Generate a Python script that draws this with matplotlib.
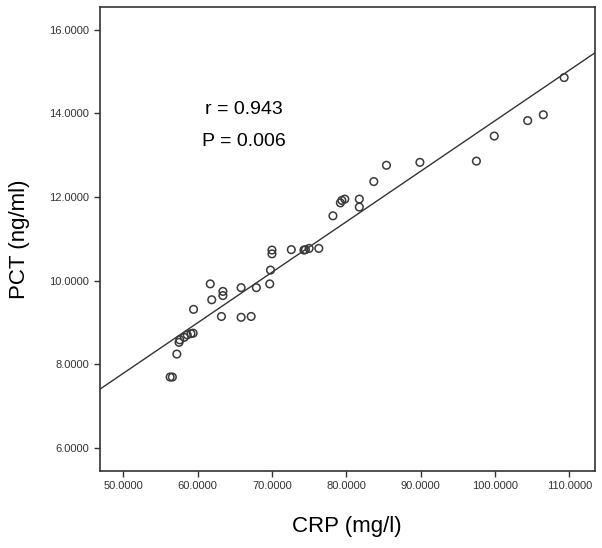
import matplotlib
matplotlib.use("Agg")
import matplotlib.pyplot as plt
import numpy as np

plt.rcParams['font.family'] = ['Liberation Sans', 'DejaVu Sans']

# CRP (mg/l) and PCT (ng/ml)
crp = [109.3, 106.5, 104.4, 99.9, 97.5, 89.9, 85.4, 83.7, 81.75, 81.75,
       79.8, 79.4, 79.2, 78.2, 76.3, 75.0, 74.5, 74.3, 72.6, 70.0,
       70.0, 69.8, 69.7, 67.9, 65.85, 67.2, 65.85, 63.2, 63.4, 63.4,
       61.7, 61.9, 59.45, 59.4, 59.1, 58.6, 58.2, 57.6, 57.5, 57.2,
       56.6, 56.3]
pct = [14.86, 13.97, 13.83, 13.46, 12.86, 12.83, 12.76, 12.37, 11.95, 11.76,
       11.95, 11.92, 11.86, 11.55, 10.77, 10.77, 10.74, 10.73, 10.74, 10.73,
       10.64, 10.25, 9.92, 9.83, 9.83, 9.14, 9.12, 9.14, 9.74, 9.64,
       9.92, 9.54, 9.31, 8.74, 8.73, 8.70, 8.64, 8.58, 8.52, 8.24,
       7.69, 7.69]

xticks = [50, 60, 70, 80, 90, 100, 110]
yticks = [6, 8, 10, 12, 14, 16]

fig = plt.figure(figsize=(6.02, 5.48), dpi=100)
ax = fig.add_axes([99.5/602, 1 - 471/548, (594.6-99.5)/602, (471-7)/548])

ax.scatter(crp, pct, s=30, facecolors='none', edgecolors='#3a3a3a', linewidths=1.1, zorder=3)

# least squares line across the whole axis width
slope, icpt = np.polyfit(crp, pct, 1)
xl = np.array([46.8, 113.4])
ax.plot(xl, slope*xl + icpt, color='#333333', lw=1.0)

ax.set_xlim(46.8, 113.4)
ax.set_ylim(5.44, 16.55)
ax.set_xticks(xticks)
ax.set_yticks(yticks)
ax.set_xticklabels(['%.4f' % v for v in xticks])
ax.set_yticklabels(['%.4f' % v for v in yticks])
ax.tick_params(direction='out', length=4, width=1.0, color='#333333',
               labelsize=8, labelcolor='#333333')
for s in ax.spines.values():
    s.set_linewidth(1.2)
    s.set_color('#333333')

ax.set_xlabel('CRP (mg/l)', fontsize=16, labelpad=18)
ax.set_ylabel('PCT (ng/ml)', fontsize=16, labelpad=14)

ax.text(244/602, 1 - 109/548, 'r = 0.943', transform=fig.transFigure, fontsize=14, ha='center', va='center')
ax.text(244/602, 1 - 141/548, 'P = 0.006', transform=fig.transFigure, fontsize=14, ha='center', va='center')

plt.savefig('out.png', dpi=100)
